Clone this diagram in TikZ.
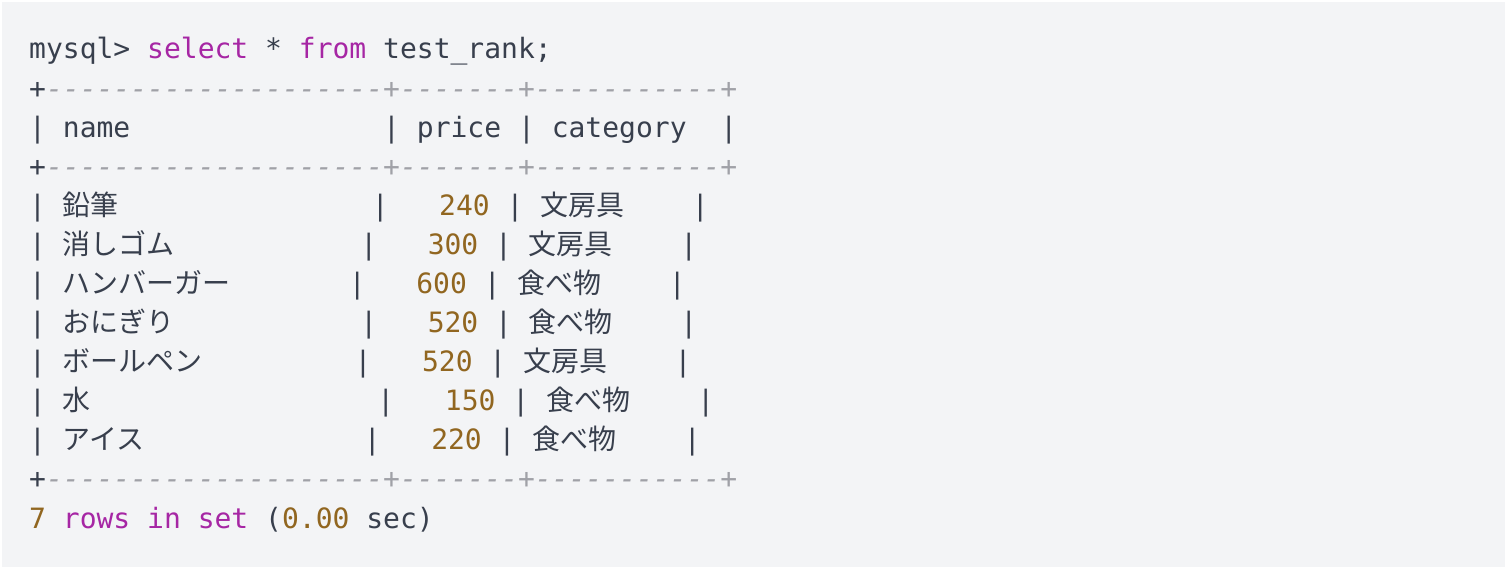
\documentclass[tikz,border=0pt]{standalone}
\usepackage{fontspec}
\setmonofont{DejaVu Sans Mono}
\newfontfamily\jp{Noto Sans CJK JP}
\usetikzlibrary{positioning}
\definecolor{codebg}{RGB}{243,244,246}
\definecolor{plain}{RGB}{56,63,77}
\definecolor{keyword}{RGB}{166,38,164}
\definecolor{number}{RGB}{145,102,32}
\definecolor{comment}{RGB}{160,161,167}
\newcommand{\kw}[1]{\textcolor{keyword}{#1}}
\newcommand{\nm}[1]{\textcolor{number}{#1}}
\newcommand{\cmt}[1]{\textcolor{comment}{\itshape #1}}
\newcommand{\pad}[1]{\hspace*{#1\fontcharwd\font`0}}

\begin{document}
\begin{tikzpicture}[x=1pt, y=-1pt,
    line/.style={anchor=base west, inner sep=0pt, text=plain,
                 font=\ttfamily\fontsize{28}{39}\selectfont}]
    \useasboundingbox (0,0) rectangle (1508,572);
    \fill[codebg] (2,2) rectangle (1505,567);
    % query
    \node[line] (l1)  at (29,59)    {mysql> \kw{select} * \kw{from} test\_rank;};
    % table
    \node[line] (l2)  at (29,98.1)  {+\cmt{--------------------+-------+-----------+}};
    \node[line] (l3)  at (29,137.2) {| name\pad{15}| price | category\pad{2}|};
    \node[line] (l4)  at (29,176.2) {+\cmt{--------------------+-------+-----------+}};
    \node[line] (l5)  at (29,215.3) {| {\jp 鉛筆}\pad{15}| \pad{2}\nm{240} | {\jp 文房具}\pad{4}|};
    \node[line] (l6)  at (29,254.4) {| {\jp 消しゴム}\pad{11}| \pad{2}\nm{300} | {\jp 文房具}\pad{4}|};
    \node[line] (l7)  at (29,293.5) {| {\jp ハンバーガー}\pad{7}| \pad{2}\nm{600} | {\jp 食べ物}\pad{4}|};
    \node[line] (l8)  at (29,332.6) {| {\jp おにぎり}\pad{11}| \pad{2}\nm{520} | {\jp 食べ物}\pad{4}|};
    \node[line] (l9)  at (29,371.6) {| {\jp ボールペン}\pad{9}| \pad{2}\nm{520} | {\jp 文房具}\pad{4}|};
    \node[line] (l10) at (29,410.7) {| {\jp 水}\pad{17}| \pad{2}\nm{150} | {\jp 食べ物}\pad{4}|};
    \node[line] (l11) at (29,449.8) {| {\jp アイス}\pad{13}| \pad{2}\nm{220} | {\jp 食べ物}\pad{4}|};
    \node[line] (l12) at (29,488.9) {+\cmt{--------------------+-------+-----------+}};
    % result
    \node[line] (l13) at (29,528)   {\nm{7} \kw{rows} \kw{in} \kw{set} (\nm{0.00} sec)};
\end{tikzpicture}
\end{document}
